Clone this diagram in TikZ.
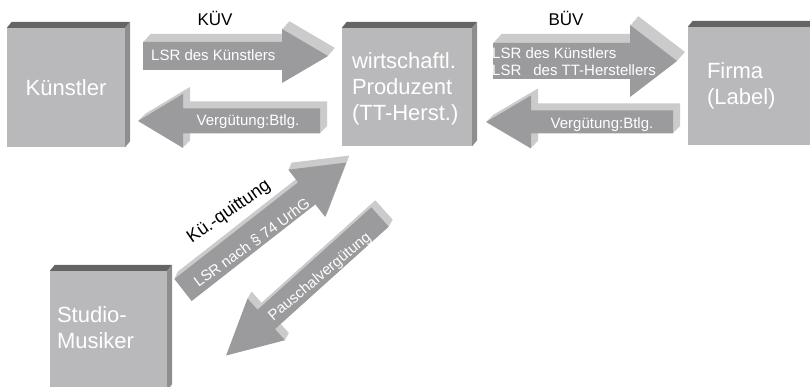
\documentclass[tikz,border=0pt]{standalone}
\usepackage{fontspec}
\setmainfont{Liberation Sans}

\definecolor{boxfront}{HTML}{B9B9BB}
\definecolor{boxtop}{HTML}{646464}
\definecolor{boxside}{HTML}{8E8E8E}
\definecolor{arrfront}{HTML}{9B9B9D}
\definecolor{arrside}{HTML}{CBCBCB}

% 3D block arrow: tail, angle, length, half body, half head, head length, depth x, depth y
\newcommand{\blockarrow}[8]{%
  \foreach \k in {1,0.9,...,0.05}
    \fill[arrside, shift={({\k*#7},{\k*#8})}, shift={#1}, rotate=#2]
      (0,#4) -- ({#3-#6},#4) -- ({#3-#6},#5) -- (#3,0)
      -- ({#3-#6},-#5) -- ({#3-#6},-#4) -- (0,-#4) -- cycle;
  \fill[arrfront, shift={#1}, rotate=#2]
      (0,#4) -- ({#3-#6},#4) -- ({#3-#6},#5) -- (#3,0)
      -- ({#3-#6},-#5) -- ({#3-#6},-#4) -- (0,-#4) -- cycle;
}

% top and right faces of a box node
\newcommand{\boxfaces}[1]{%
  \fill[boxtop] (#1.north west) -- ++(5,-6) -- ([shift={(5pt,6pt)}]#1.north east) -- (#1.north east) -- cycle;
  \fill[boxside] (#1.north east) -- ++(5,-6) -- ([shift={(5pt,6pt)}]#1.south east) -- (#1.south east) -- cycle;
}

\tikzset{
  block/.style={fill=boxfront, inner sep=0pt},
  blocktext/.style={text=white, inner sep=0pt, align=left, font=\fontsize{22}{26}\selectfont},
  arrtext/.style={text=white, inner sep=0pt, align=left, font=\fontsize{15}{17}\selectfont},
  contract/.style={inner sep=0pt, font=\fontsize{17}{20}\selectfont}
}

\begin{document}
\begin{tikzpicture}[x=1pt,y=-1pt]
  \useasboundingbox (0,0) rectangle (810,387);
  \clip (0,0) rectangle (810,387);

  % boxes
  \node[block, minimum width=118pt, minimum height=119pt] (kue) at (66,87.5) {};
  \node[block, minimum width=130pt, minimum height=118pt] (prod) at (407,87) {};
  \node[block, minimum width=130pt, minimum height=118pt] (firma) at (753,86) {};
  \node[block, minimum width=117pt, minimum height=119pt] (studio) at (108.5,330.5) {};
  \boxfaces{kue}
  \boxfaces{prod}
  \boxfaces{firma}
  \boxfaces{studio}

  \node[blocktext] (kuetext) at (kue.center) {Künstler};
  \node[blocktext, anchor=west] (prodtext) at ([shift={(10pt,-2pt)}]prod.west) {wirtschaftl.\\Produzent\\(TT-Herst.)};
  \node[blocktext, anchor=west] (firmatext) at ([shift={(19pt,0pt)}]firma.west) {Firma\\(Label)};
  \node[blocktext, anchor=west] (studiotext) at ([shift={(7pt,3pt)}]studio.west) {Studio-\\Musiker};

  % arrows
  \blockarrow{(143,56)}{0}{185}{14}{27}{46}{7}{-8}
  \blockarrow{(320,121)}{180}{182}{12.5}{27}{45}{7}{-7}
  \blockarrow{(493,61)}{0}{184}{18}{36}{47}{8}{-9}
  \blockarrow{(673,122)}{180}{187}{11.5}{26.5}{45}{7}{-7}
  \blockarrow{(183,290)}{38}{207}{14}{30}{50}{3}{-7}
  \blockarrow{(380,217)}{222}{207}{13}{28}{54}{4}{-7}

  \node[arrtext, anchor=west] (a1text) at (151,55) {LSR des Künstlers};
  \node[arrtext] (a2text) at (248,122) {Vergütung:Btlg.};
  \node[arrtext, anchor=west] (a3text) at (492,61.5) {LSR des Künstlers\\LSR\hspace*{12pt}des TT-Herstellers};
  \node[arrtext] (a4text) at (602,125) {Vergütung:Btlg.};
  \node[arrtext, rotate=36] (a5text) at (252,243) {LSR nach § 74 UrhG};
  \node[arrtext, rotate=40] (a6text) at (320,277) {Pauschalvergütung};

  \node[contract] (kuev) at (215,18) {KÜV};
  \node[contract] (buev) at (566,18) {BÜV};
  \node[contract, font=\fontsize{18}{20}\selectfont, rotate=35] (quitt) at (229,212) {Kü.-quittung};
\end{tikzpicture}
\end{document}
